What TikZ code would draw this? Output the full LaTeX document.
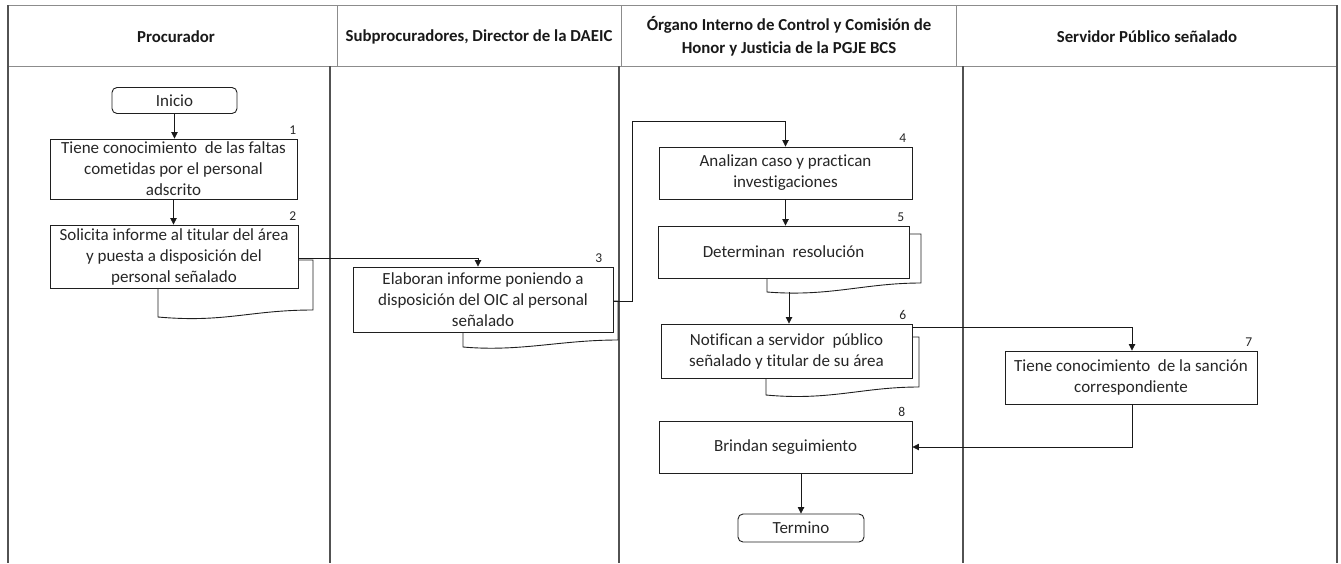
\documentclass[tikz,border=0pt]{standalone}
\usepackage{fontspec}
\setmainfont[Ligatures=NoCommon]{Carlito}
\usetikzlibrary{arrows.meta,calc}
\begin{document}
\begin{tikzpicture}[x=1pt,y=-1pt,
  lane/.style={draw=black!68,line width=1.1pt},
  hline/.style={draw=black!45,line width=1pt},
  htext/.style={font=\fontsize{16.8}{23}\selectfont\bfseries,align=center,text=black!90},
  proc/.style={draw=black!88,line width=0.9pt,align=center,inner sep=2pt,
    font=\fontsize{17}{21}\selectfont,text=black!85},
  term/.style={proc,rounded corners=5pt},
  num/.style={font=\fontsize{13.5}{15}\selectfont,inner sep=0pt,anchor=south east,text=black!85},
  conn/.style={draw=black!90,line width=0.8pt},
  arr/.style={conn,-{Triangle[length=6.5pt,width=6.5pt]}},
  docb/.style={draw=black!88,line width=0.9pt}]
\useasboundingbox (0,0) rectangle (1341,563);
% frame and lanes
\draw[hline] (8,5) -- (1337,5);
\draw[hline] (8,66) -- (1337,66);
\draw[lane] (8,5) -- (8,563);
\draw[lane] (1337,5) -- (1337,563);
\draw[hline] (337,5) -- (337,66);
\draw[hline] (621,5) -- (621,66);
\draw[hline] (956,5) -- (956,66);
\draw[lane] (330,66) -- (330,563);
\draw[lane] (619,66) -- (619,563);
\draw[lane] (963,66) -- (963,563);
% headers
\node[htext] (h1) at (176,37) {Procurador};
\node[htext] (h2) at (479,37) {Subprocuradores, Director de la DAEIC};
\node[htext] (h3) at (789,36) {Órgano Interno de Control y Comisión de\\Honor y Justicia de la PGJE BCS};
\node[htext] (h4) at (1147,37) {Servidor Público señalado};
% back documents (drawn first)
\draw[docb] (298,260) -- (313,260) -- (313,310) .. controls (250,310) and (225,323) .. (158,317) -- (158,288);
\draw[docb] (613,301) -- (618,301) -- (618,340) .. controls (560,340) and (520,352) .. (463,347) -- (463,332);
\draw[docb] (909,234) -- (921,234) -- (921,283) .. controls (864,283) and (830,297) .. (767,292) -- (767,278);
\draw[docb] (912,337) -- (919,337) -- (919,387) .. controls (862,387) and (830,401) .. (766,395) -- (766,378);
% nodes
\node[term,minimum width=125pt,minimum height=26pt] (inicio) at (174.5,100.5) {Inicio};
\node[proc,minimum width=247pt,minimum height=60pt] (b1) at (173.5,169) {Tiene conocimiento \ de las faltas\\cometidas por el personal\\adscrito};
\node[proc,fill=white,minimum width=248pt,minimum height=63pt] (b2) at (174,256.5) {Solicita informe al titular del área\\y puesta a disposición del\\personal señalado};
\node[proc,fill=white,minimum width=260pt,minimum height=65pt] (b3) at (483,299.5) {Elaboran informe poniendo a\\disposición del OIC al personal\\señalado};
\node[proc,minimum width=253pt,minimum height=52pt] (b4) at (785.5,173) {Analizan caso y practican\\investigaciones};
\node[proc,fill=white,minimum width=251pt,minimum height=52pt] (b5) at (783.5,252) {Determinan \ resolución};
\node[proc,fill=white,minimum width=251pt,minimum height=54pt] (b6) at (786.5,351) {Notifican a servidor \ público\\señalado y titular de su área};
\node[proc,minimum width=252pt,minimum height=53pt] (b7) at (1131,377.5) {Tiene conocimiento \ de la sanción\\correspondiente};
\node[proc,minimum width=253pt,minimum height=52pt] (b8) at (785.5,447) {Brindan seguimiento};
\node[term,minimum width=126pt,minimum height=28pt] (termino) at (801,528) {Termino};
% numbers
\node[num] (n1) at ($(b1.north east)+(-1,-4)$) {1};
\node[num] (n2) at ($(b2.north east)+(-2,-4)$) {2};
\node[num] (n3) at ($(b3.north east)+(-11,-4)$) {3};
\node[num] (n4) at ($(b4.north east)+(-6,-4)$) {4};
\node[num] (n5) at ($(b5.north east)+(-5,-4)$) {5};
\node[num] (n6) at ($(b6.north east)+(-6,-4)$) {6};
\node[num] (n7) at ($(b7.north east)+(-5,-4)$) {7};
\node[num] (n8) at ($(b8.north east)+(-7,-4)$) {8};
% connectors
\coordinate (c34) at (632,121);
\coordinate (d5) at (789,292);
\coordinate (c67) at (912,327);
\draw[arr] (inicio.south) -- (inicio.south |- b1.north);
\draw[arr] (b1.south) -- (b1.south |- b2.north);
\draw[arr] ([yshift=-1.5pt]b2.east) -| ([xshift=-5pt]b3.north);
\draw[arr] ([yshift=-1.5pt]b3.east) -| (c34) -| (b4.north);
\draw[arr] (b4.south) -- (b4.south |- b5.north);
\draw[arr] (d5) -- (d5 |- b6.north);
\draw[arr] (c67) -| ([xshift=1pt]b7.north);
\draw[arr] ([xshift=1pt]b7.south) |- (b8.east);
\draw[arr] (b8.south -| termino.north) -- (termino.north);
\end{tikzpicture}
\end{document}
